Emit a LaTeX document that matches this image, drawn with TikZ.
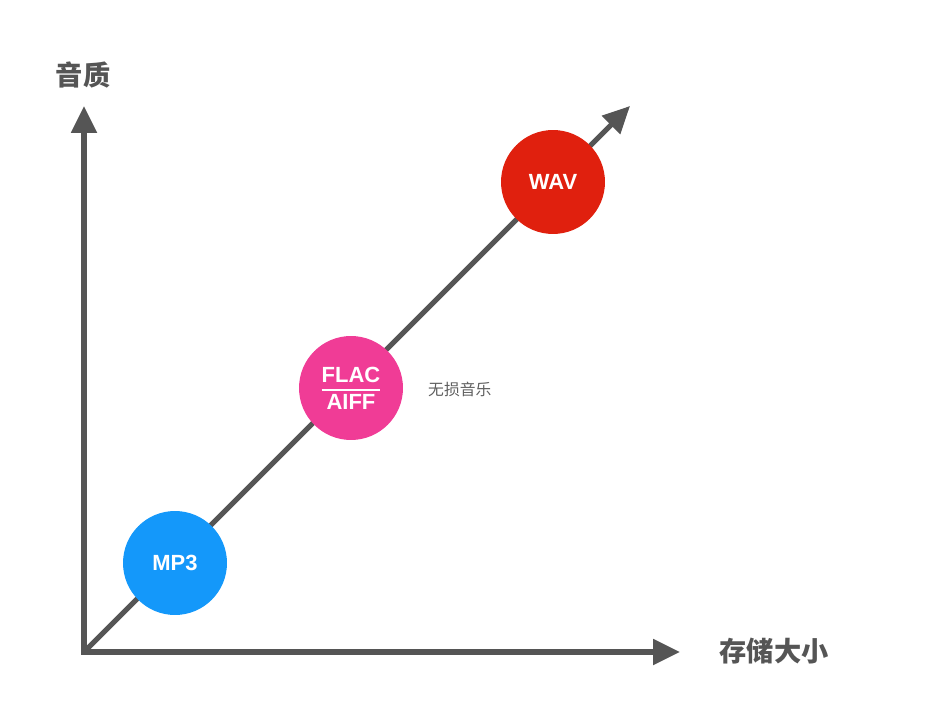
\documentclass[tikz,border=0pt]{standalone}
\usepackage{fontspec}
\setmainfont{Liberation Sans}
\newfontfamily\cjk{Noto Sans CJK SC}
\usetikzlibrary{arrows.meta}
\definecolor{axisgrey}{RGB}{85,85,85}
\definecolor{notegrey}{RGB}{95,95,95}
\definecolor{mpblue}{RGB}{20,152,250}
\definecolor{flacpink}{RGB}{240,60,150}
\definecolor{wavred}{RGB}{224,32,14}

\begin{document}
\begin{tikzpicture}[x=0.02cm,y=-0.02cm,
  axis/.style={draw=axisgrey,line width=2.9pt,line join=miter},
  fmt/.style={circle,fill=#1,minimum size=2.08cm,inner sep=0pt,text=white,
    font=\bfseries\fontsize{12.5}{15.5}\selectfont,align=center}]
  \useasboundingbox (0,0) rectangle (926,712);
  % axes
  \coordinate (o) at (84,652);
  \coordinate (ytip) at (84,106);
  \coordinate (xtip) at (680,652);
  \coordinate (dtip) at (630,106);
  \draw[axis,{Triangle[width=0.5cm,length=0.54cm]}-{Triangle[width=0.5cm,length=0.54cm]}] (ytip) -- (o) -- (xtip);
  \draw[axis,-{Triangle[width=0.5cm,length=0.54cm]}] (o) -- (dtip);
  \node[font=\cjk\bfseries\fontsize{15.5}{18}\selectfont,text=axisgrey] (quality) at (83,75) {音质};
  \node[font=\cjk\bfseries\fontsize{15.5}{18}\selectfont,text=axisgrey] (size) at (774,651) {存储大小};
  % formats
  \node[fmt=mpblue] (mp3) at (175,563) {MP3};
  \node[fmt=flacpink] (flac) at (351,388) {FLAC\\AIFF};
  \draw[white,line width=0.8pt] ([xshift=-0.59cm,yshift=-0.04cm]flac.center) -- ([xshift=0.59cm,yshift=-0.04cm]flac.center);
  \node[fmt=wavred] (wav) at (553,182) {WAV};
  \node[font=\cjk\fontsize{9}{11}\selectfont,text=notegrey,anchor=west] (lossless) at (422,389) {无损音乐};
\end{tikzpicture}
\end{document}
